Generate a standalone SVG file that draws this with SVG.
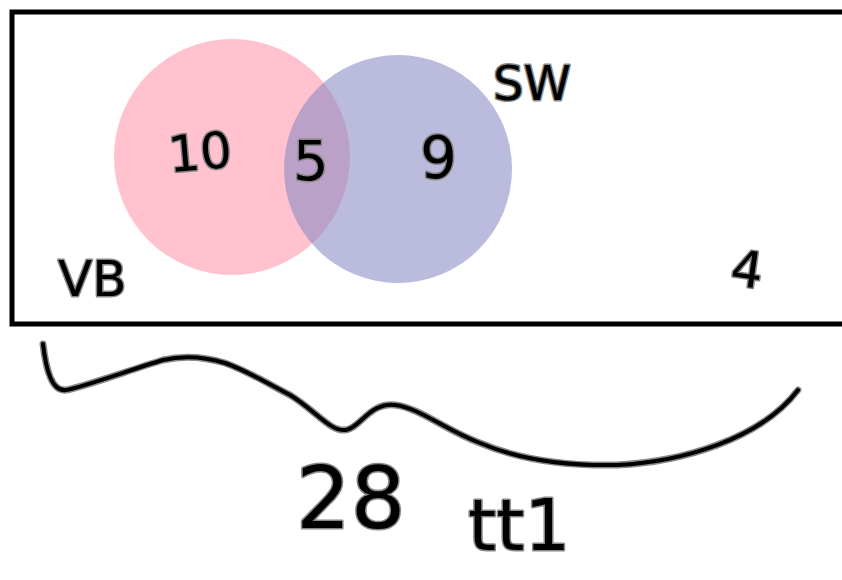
<svg xmlns="http://www.w3.org/2000/svg" width="842" height="580" viewBox="0 0 842 580">
<style>
.t{font-family:"DejaVu Sans",sans-serif;fill:#000;stroke:#888;stroke-width:3;paint-order:stroke;stroke-linejoin:round}
.ink{fill:none;stroke:#000;stroke-width:4;stroke-linecap:round;stroke-linejoin:round}
.halo{fill:none;stroke:#888;stroke-width:7;stroke-linecap:round;stroke-linejoin:round}
</style>
<rect width="842" height="580" fill="#fff"/>
<g id="universe">
<rect x="12" y="12" width="840" height="312" fill="none" stroke="#000" stroke-width="5"/>
<text class="t" x="58" y="296" font-size="50">VB</text>
<text class="t" x="732" y="288" font-size="50" transform="rotate(8 755 265)">4</text>
</g>
<g id="setA">
<circle cx="232" cy="157" r="118" fill="#ff9aad" fill-opacity="0.6"/>
<text class="t" x="168" y="170" font-size="50" transform="rotate(-5 195 150)">10</text>
</g>
<g id="setB">
<circle cx="398" cy="169" r="114" fill="#8a8ac4" fill-opacity="0.58"/>
<text class="t" x="420" y="178" font-size="58">9</text>
<text class="t" x="493" y="100" font-size="48">SW</text>
</g>
<g id="intersection">
<text class="t" x="293" y="180" font-size="56">5</text>
</g>
<g id="connectors">
<path class="halo" d="M43,344 C46,370 52,392 66,390 C80,388 130,370 163,360 C185,355 205,357 225,363 C250,372 270,385 290,395 C315,410 330,432 346,430 C360,428 370,402 395,405 C420,408 445,430 480,443 C520,460 570,466 617,465 C680,462 760,440 798,390"/>
<path class="ink" d="M43,344 C46,370 52,392 66,390 C80,388 130,370 163,360 C185,355 205,357 225,363 C250,372 270,385 290,395 C315,410 330,432 346,430 C360,428 370,402 395,405 C420,408 445,430 480,443 C520,460 570,466 617,465 C680,462 760,440 798,390"/>
</g>
<g id="total">
<text class="t" x="296" y="528" font-size="86">28</text>
<text class="t" x="468" y="550" font-size="72">tt1</text>
</g>
</svg>
